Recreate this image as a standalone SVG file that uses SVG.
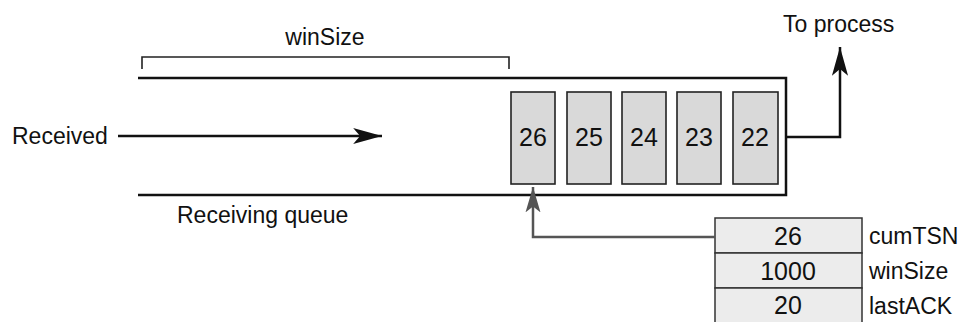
<svg xmlns="http://www.w3.org/2000/svg" width="965" height="322" viewBox="0 0 965 322">
<style>
text{font-family:"Liberation Sans",Arial,sans-serif;fill:#111;}
.lbl{font-size:23px;}
.num{font-size:25px;text-anchor:middle;}
.pkt{fill:#d9d9d9;stroke:#222;stroke-width:1.6;}
.row{fill:#ececec;stroke:#333;stroke-width:1.5;}
.ln{fill:none;stroke:#111;stroke-width:2.5;}
.gr{fill:none;stroke:#555;stroke-width:2.5;}
</style>
<defs>
<marker id="ah" markerUnits="userSpaceOnUse" markerWidth="30" markerHeight="20" viewBox="0 -8 26 16" refX="25" refY="0" orient="auto">
<path d="M0,-7 L25,0 L0,7 L6,0 Z" fill="#111"/>
</marker>
<marker id="ahg" markerUnits="userSpaceOnUse" markerWidth="30" markerHeight="20" viewBox="0 -8 26 16" refX="22" refY="0" orient="auto">
<path d="M0,-6.5 L22,0 L0,6.5 L5,0 Z" fill="#555"/>
</marker>
</defs>
<g id="queue">
<path class="ln" d="M138,78 H786 V195 H138"/>
<text class="lbl" x="177" y="223">Receiving queue</text>
</g>
<g id="bracket">
<path d="M142,69 V57 H509 V69" fill="none" stroke="#222" stroke-width="1.6"/>
<text class="lbl" x="325" y="45" text-anchor="middle">winSize</text>
</g>
<g id="received"><text class="lbl" x="12" y="144">Received</text></g>
<g id="toprocess"><text class="lbl" x="783" y="32">To process</text></g>
<g id="p26"><rect class="pkt" x="511" y="92" width="44" height="92"/><text class="num" x="533" y="146">26</text></g>
<g id="p25"><rect class="pkt" x="567" y="92" width="44" height="92"/><text class="num" x="589" y="146">25</text></g>
<g id="p24"><rect class="pkt" x="622" y="92" width="44" height="92"/><text class="num" x="644" y="146">24</text></g>
<g id="p23"><rect class="pkt" x="677" y="92" width="44" height="92"/><text class="num" x="699" y="146">23</text></g>
<g id="p22"><rect class="pkt" x="733" y="92" width="45" height="92"/><text class="num" x="755" y="146">22</text></g>
<g id="table">
<rect class="row" x="715" y="218" width="147" height="35"/>
<rect class="row" x="715" y="253" width="147" height="35"/>
<rect class="row" x="715" y="288" width="147" height="40"/>
<text class="num" x="788" y="245">26</text>
<text class="num" x="788" y="280">1000</text>
<text class="num" x="788" y="314">20</text>
<text class="lbl" x="869" y="244">cumTSN</text>
<text class="lbl" x="869" y="279">winSize</text>
<text class="lbl" x="869" y="314">lastACK</text>
</g>
<g id="connectors">
<path class="ln" d="M118,136 H382" marker-end="url(#ah)"/>
<path class="ln" d="M786,137 H840 V47" marker-end="url(#ah)"/>
<path class="gr" d="M715,237 H533 V187" marker-end="url(#ahg)"/>
</g>
</svg>
